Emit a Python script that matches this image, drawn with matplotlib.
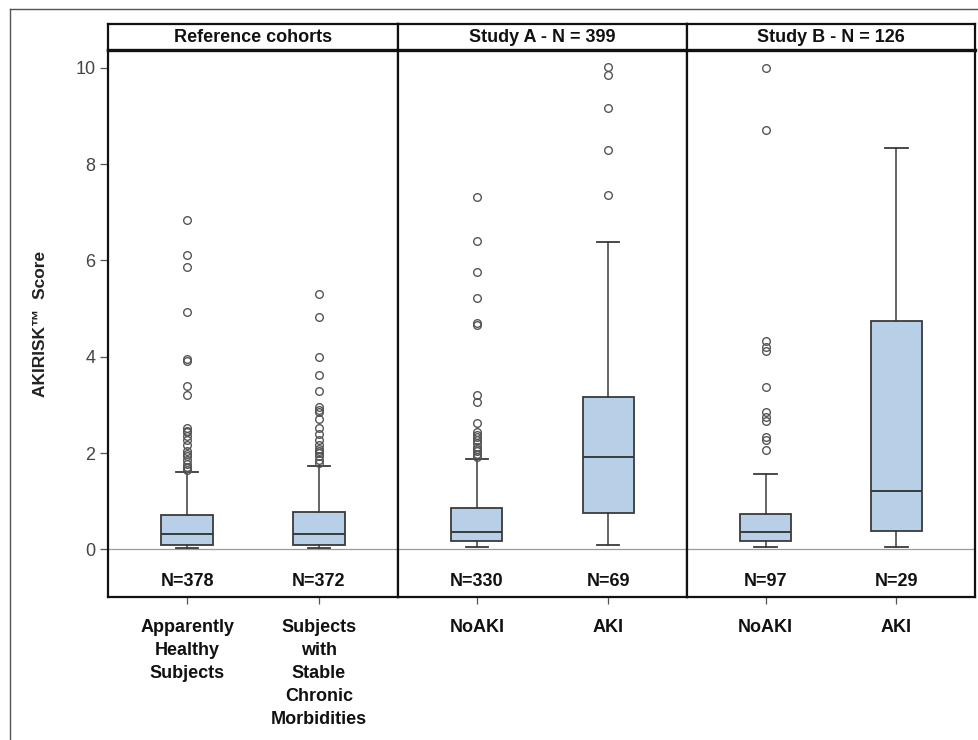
import matplotlib
matplotlib.use("Agg")
import matplotlib.pyplot as plt
from matplotlib.lines import Line2D

# ---------------- data ----------------
panel_titles = ["Reference cohorts", "Study A - N = 399", "Study B - N = 126"]
categories = ["Apparently\nHealthy\nSubjects",
              "Subjects\nwith\nStable\nChronic\nMorbidities",
              "NoAKI", "AKI", "NoAKI", "AKI"]
n_labels = ["N=378", "N=372", "N=330", "N=69", "N=97", "N=29"]

whislo = [0.02, 0.02, 0.04, 0.08, 0.04, 0.04]
q1 = [0.08, 0.08, 0.17, 0.76, 0.17, 0.38]
med = [0.31, 0.31, 0.36, 1.92, 0.35, 1.21]
q3 = [0.71, 0.78, 0.86, 3.16, 0.74, 4.74]
whishi = [1.61, 1.74, 1.87, 6.39, 1.57, 8.33]

outliers_healthy = [6.83, 6.11, 5.87, 4.92, 3.95, 3.92, 3.39, 3.20, 2.51, 2.46, 2.43,
                    2.36, 2.28, 2.17, 2.05, 1.98, 1.94, 1.86, 1.78, 1.72, 1.68, 1.65]
outliers_chronic = [5.31, 4.83, 3.99, 3.63, 3.28, 2.95, 2.90, 2.86, 2.70, 2.53, 2.40,
                    2.28, 2.17, 2.09, 2.05, 2.01, 1.94, 1.86, 1.80]
outliers_a_noaki = [7.31, 6.41, 5.76, 5.22, 4.70, 4.66, 3.20, 3.06, 2.63, 2.43, 2.38,
                    2.33, 2.28, 2.20, 2.13, 2.08, 2.05, 1.97, 1.92]
outliers_a_aki = [10.01, 9.85, 9.16, 8.29, 7.35]
outliers_b_noaki = [10.0, 8.71, 4.32, 4.20, 4.12, 3.37, 2.86, 2.74, 2.67, 2.33, 2.28, 2.07]
outliers_b_aki = []
outliers = [outliers_healthy, outliers_chronic, outliers_a_noaki,
            outliers_a_aki, outliers_b_noaki, outliers_b_aki]

y_ticks = [0, 2, 4, 6, 8, 10]
y_label = "AKIRISK\u2122  Score"

# ---------------- styling ----------------
W, H = 979, 740
BOX_FILL = "#b8cfe8"
EDGE = "#3a3a3a"
FONT = ['Liberation Sans', 'DejaVu Sans']

fig = plt.figure(figsize=(W / 100, H / 100), dpi=100)
fig.patch.set_facecolor("white")

# outer frame of the picture
fig.add_artist(Line2D([10 / W, 10 / W], [0, 1 - 9 / H], transform=fig.transFigure,
                      color="#555555", lw=1.0))
fig.add_artist(Line2D([10 / W, 1], [1 - 9 / H, 1 - 9 / H], transform=fig.transFigure,
                      color="#555555", lw=1.0))

panel_px = [(108, 398), (398, 687), (687, 975)]
data_top, data_bot, head_top = 50, 597, 24
ylim = (-0.99, 10.37)

for p, (x0, x1) in enumerate(panel_px):
    ax = fig.add_axes([x0 / W, 1 - data_bot / H, (x1 - x0) / W, (data_bot - data_top) / H])
    hax = fig.add_axes([x0 / W, 1 - data_top / H, (x1 - x0) / W, (data_top - head_top) / H])

    idx = [2 * p, 2 * p + 1]
    stats = []
    for i in idx:
        stats.append(dict(whislo=whislo[i], q1=q1[i], med=med[i], q3=q3[i],
                          whishi=whishi[i], fliers=outliers[i], label=categories[i]))
    ax.axhline(0, color="#9a9a9a", lw=0.9, zorder=0)
    ax.bxp(stats, positions=[0.5, 1.5], widths=0.39, capwidths=0.17,
           patch_artist=True, showfliers=True,
           boxprops=dict(facecolor=BOX_FILL, edgecolor=EDGE, linewidth=1.3),
           medianprops=dict(color=EDGE, linewidth=1.4),
           whiskerprops=dict(color=EDGE, linewidth=1.1),
           capprops=dict(color=EDGE, linewidth=1.3),
           flierprops=dict(marker="o", markerfacecolor="none", markeredgecolor="#555555",
                           markersize=5.5, markeredgewidth=1.0))
    ax.set_xlim(-0.1, 2.1)
    ax.set_ylim(*ylim)

    for k, i in enumerate(idx):
        ax.text(0.5 + k, -0.66, n_labels[i], ha="center", va="center",
                fontsize=13, fontweight="bold", family=FONT, color="#111111")

    ax.set_xticks([0.5, 1.5])
    ax.set_xticklabels([categories[i] for i in idx], fontsize=13, fontweight="bold",
                       family=FONT, va="top", linespacing=1.45, color="#111111")
    ax.tick_params(axis="x", length=5, width=0.9, color="#555555", pad=11)

    if p == 0:
        ax.set_yticks(y_ticks)
        ax.set_yticklabels([str(t) for t in y_ticks], fontsize=13, color="#444444",
                           family=FONT)
        ax.tick_params(axis="y", length=6, width=0.9, color="#555555", pad=3)
        ax.set_ylabel(y_label, fontsize=12.5, fontweight="bold", family=FONT,
                      color="#222222", labelpad=20)
    else:
        ax.set_yticks([])

    for s in ax.spines.values():
        s.set_color("#111111")
        s.set_linewidth(1.6)

    hax.set_xticks([])
    hax.set_yticks([])
    for s in hax.spines.values():
        s.set_color("#111111")
        s.set_linewidth(1.6)
    hax.spines["bottom"].set_linewidth(2.4)
    hax.text(0.5, 0.5, panel_titles[p], ha="center", va="center", fontsize=13,
             fontweight="bold", family=FONT, color="#111111", transform=hax.transAxes)

fig.savefig("out.png", dpi=100, facecolor="white")
